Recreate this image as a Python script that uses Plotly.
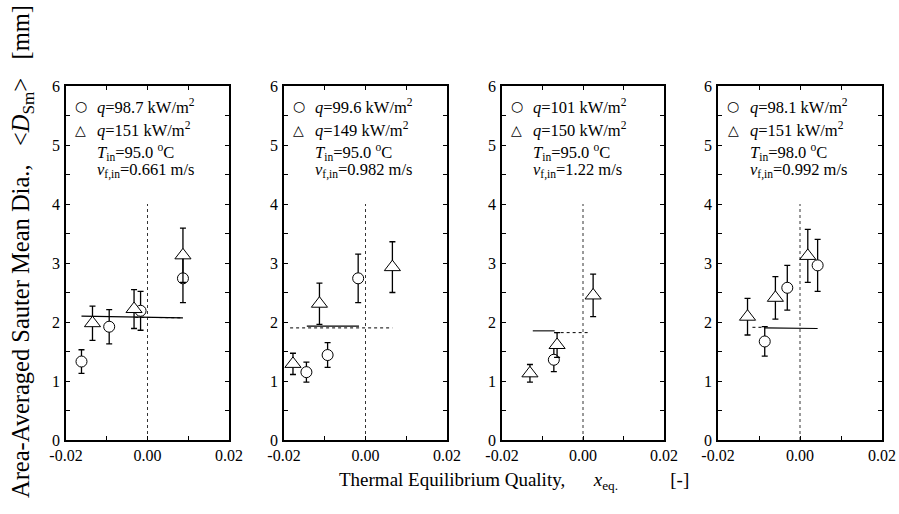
import plotly.graph_objects as go

# ---------------- data ----------------
x_tickvals = [-0.02, 0.0, 0.02]
x_ticktext = ["-0.02", "0.00", "0.02"]
y_tickvals = [0, 1, 2, 3, 4, 5, 6]
y_ticktext = ["0", "1", "2", "3", "4", "5", "6"]

# panel 1
p1_circ_x = [-0.0162, -0.0094, -0.0017, 0.0087]
p1_circ_y = [1.33, 1.92, 2.19, 2.74]
p1_circ_err = [0.20, 0.29, 0.33, 0.41]
p1_tri_x = [-0.0135, -0.0033, 0.0087]
p1_tri_y = [1.98, 2.22, 3.13]
p1_tri_err = [0.29, 0.33, 0.46]
p1_solid_x = [-0.0162, 0.0087]
p1_solid_y = [2.10, 2.07]
p1_dot_x = [-0.0030, 0.0087]
p1_dot_y = [2.08, 2.07]

# panel 2
p2_circ_x = [-0.0145, -0.0093, -0.0018]
p2_circ_y = [1.15, 1.44, 2.74]
p2_circ_err = [0.17, 0.21, 0.41]
p2_tri_x = [-0.0178, -0.0113, 0.0066]
p2_tri_y = [1.29, 2.31, 2.93]
p2_tri_err = [0.18, 0.35, 0.43]
p2_solid_x = [-0.0144, -0.0016]
p2_solid_y = [1.93, 1.93]
p2_dot_x = [-0.0185, 0.0066]
p2_dot_y = [1.90, 1.90]

# panel 3
p3_circ_x = [-0.0072]
p3_circ_y = [1.36]
p3_circ_err = [0.20]
p3_tri_x = [-0.0131, -0.0064, 0.0025]
p3_tri_y = [1.13, 1.61, 2.45]
p3_tri_err = [0.15, 0.21, 0.36]
p3_solid_x = [-0.0124, -0.0070]
p3_solid_y = [1.85, 1.85]
p3_dot_x = [-0.0070, 0.0018]
p3_dot_y = [1.82, 1.82]

# panel 4
p4_circ_x = [-0.0086, -0.0031, 0.0043]
p4_circ_y = [1.67, 2.58, 2.96]
p4_circ_err = [0.25, 0.38, 0.44]
p4_tri_x = [-0.0128, -0.0060, 0.0019]
p4_tri_y = [2.09, 2.41, 3.12]
p4_tri_err = [0.31, 0.36, 0.45]
p4_solid_x = [-0.0086, 0.0043]
p4_solid_y = [1.90, 1.89]
p4_dot_x = [-0.0116, -0.0086]
p4_dot_y = [1.91, 1.91]

zero_line_x = [0.0, 0.0]
zero_line_y = [0.0, 4.0]

q_low = ["98.7", "99.6", "101", "98.1"]
q_high = ["151", "149", "150", "151"]
t_in = ["95.0", "95.0", "95.0", "98.0"]
v_in = ["0.661", "0.982", "1.22", "0.992"]

panels = [
    (p1_circ_x, p1_circ_y, p1_circ_err, p1_tri_x, p1_tri_y, p1_tri_err,
     p1_solid_x, p1_solid_y, p1_dot_x, p1_dot_y),
    (p2_circ_x, p2_circ_y, p2_circ_err, p2_tri_x, p2_tri_y, p2_tri_err,
     p2_solid_x, p2_solid_y, p2_dot_x, p2_dot_y),
    (p3_circ_x, p3_circ_y, p3_circ_err, p3_tri_x, p3_tri_y, p3_tri_err,
     p3_solid_x, p3_solid_y, p3_dot_x, p3_dot_y),
    (p4_circ_x, p4_circ_y, p4_circ_err, p4_tri_x, p4_tri_y, p4_tri_err,
     p4_solid_x, p4_solid_y, p4_dot_x, p4_dot_y),
]

# ---------------- layout ----------------
W, H = 899, 514
FONT = "Liberation Serif"
panel_px = [(66, 229), (284, 447), (502, 664), (718, 882)]
top_px, bot_px = 86, 440

fig = go.Figure()
layout = dict(
    template="none",
    width=W, height=H, margin=dict(l=0, r=0, t=0, b=0, pad=0, autoexpand=False),
    paper_bgcolor="white", plot_bgcolor="white", showlegend=False,
    font=dict(family=FONT, size=16, color="black"),
)
annotations = []

for i, (cx, cy, ce, tx, ty, te, sx, sy, dx, dy) in enumerate(panels):
    n = "" if i == 0 else str(i + 1)
    xa, ya = "x" + n, "y" + n
    l, r = panel_px[i]
    layout["xaxis" + n] = dict(
        domain=[l / W, r / W], range=[-0.02, 0.02], anchor=ya, automargin=False,
        tickvals=x_tickvals, ticktext=x_ticktext,
        ticks="inside", ticklen=4, tickwidth=1, tickcolor="black",
        minor=dict(ticks="inside", dtick=0.01, ticklen=4, tickwidth=1, tickcolor="black"),
        showline=True, linewidth=1.8, linecolor="black", mirror="ticks",
        showgrid=False, zeroline=False,
        tickfont=dict(family=FONT, size=16, color="black"),
    )
    layout["yaxis" + n] = dict(
        domain=[1 - bot_px / H, 1 - top_px / H], range=[0, 6], anchor=xa,
        automargin=False,
        tickvals=y_tickvals, ticktext=y_ticktext,
        ticks="inside", ticklen=4, tickwidth=1, tickcolor="black",
        minor=dict(ticks="inside", dtick=0.5, ticklen=4, tickwidth=1, tickcolor="black"),
        showline=True, linewidth=1.8, linecolor="black", mirror="ticks",
        showgrid=False, zeroline=False, ticklabelstandoff=1,
        tickfont=dict(family=FONT, size=16, color="black"),
    )
    fig.add_trace(go.Scatter(x=zero_line_x, y=zero_line_y, mode="lines", xaxis=xa, yaxis=ya,
                             line=dict(color="black", width=0.8, dash="dot")))
    fig.add_trace(go.Scatter(x=dx, y=dy, mode="lines", xaxis=xa, yaxis=ya,
                             line=dict(color="black", width=1, dash="dot")))
    fig.add_trace(go.Scatter(x=sx, y=sy, mode="lines", xaxis=xa, yaxis=ya,
                             line=dict(color="black", width=1.1)))
    fig.add_trace(go.Scatter(x=cx, y=cy, mode="markers", xaxis=xa, yaxis=ya,
                             marker=dict(symbol="circle", size=11, color="white",
                                         line=dict(color="black", width=1)),
                             error_y=dict(type="data", array=ce, color="black",
                                          thickness=1.3, width=3)))
    fig.add_trace(go.Scatter(x=tx, y=ty, mode="markers", xaxis=xa, yaxis=ya,
                             marker=dict(symbol="triangle-up", size=14, color="white",
                                         line=dict(color="black", width=1)),
                             error_y=dict(type="data", array=te, color="black",
                                          thickness=1.3, width=3)))
    xd = xa + " domain"
    yd = ya + " domain"
    sym_rows = [0.943, 0.877]
    txt_rows = [0.943, 0.877, 0.813, 0.760]
    annotations.append(dict(xref=xd, yref=yd, x=0.092, y=sym_rows[0], text="○", showarrow=False,
                            font=dict(family="DejaVu Sans", size=14, color="black"),
                            xanchor="center", yanchor="middle"))
    annotations.append(dict(xref=xd, yref=yd, x=0.092, y=sym_rows[1], text="△", showarrow=False,
                            font=dict(family="DejaVu Sans", size=14, color="black"),
                            xanchor="center", yanchor="middle"))
    texts = [
        "<i>q</i>=" + q_low[i] + " kW/m<sup>2</sup>",
        "<i>q</i>=" + q_high[i] + " kW/m<sup>2</sup>",
        "<i>T</i><sub>in</sub>=" + t_in[i] + " <sup>o</sup>C",
        "<i>v</i><sub>f,in</sub>=" + v_in[i] + " m/s",
    ]
    for t, yy in zip(texts, txt_rows):
        annotations.append(dict(xref=xd, yref=yd, x=0.18, y=yy, text=t, showarrow=False,
                                font=dict(family=FONT, size=16.5, color="black"),
                                xanchor="left", yanchor="middle"))

NB = "\u00a0"
annotations.append(dict(xref="paper", yref="paper", x=514 / W, y=1 - 481 / H,
                        text="Thermal Equilibrium Quality," + NB * 6 + "<i>x</i><sub>eq.</sub>"
                             + NB * 11 + "[-]",
                        showarrow=False, font=dict(family=FONT, size=19, color="black"),
                        xanchor="center", yanchor="middle"))
annotations.append(dict(xref="paper", yref="paper", x=22 / W, y=1 - 252 / H,
                        text="Area-Averaged Sauter Mean Dia.," + NB * 3
                             + "&lt;<i>D</i><sub>Sm</sub>&gt;" + NB * 3 + "[mm]",
                        showarrow=False, textangle=-90,
                        font=dict(family=FONT, size=24.5, color="black"),
                        xanchor="center", yanchor="middle"))

layout["annotations"] = annotations
fig.update_layout(**layout)
fig.write_html(
    "out.html",
    config={"displayModeBar": False},
    post_script="document.body.style.margin='0px';document.body.style.overflow='hidden';",
)
